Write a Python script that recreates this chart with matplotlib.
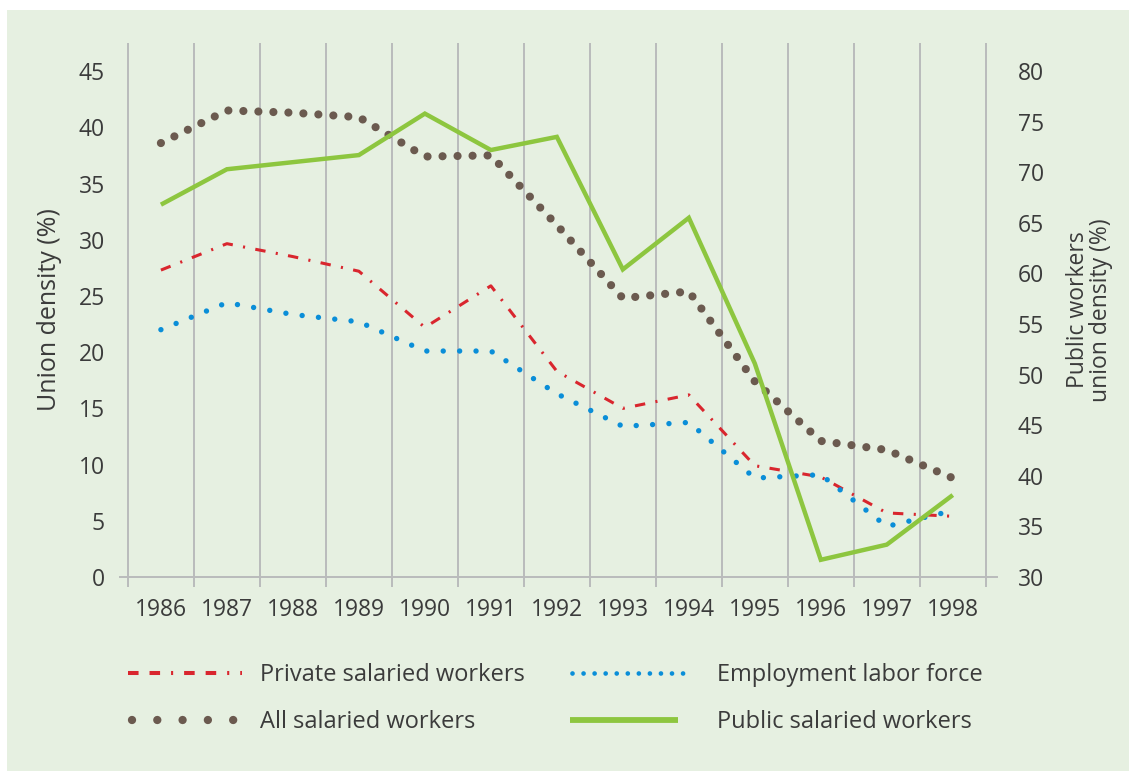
import numpy as np
import matplotlib
matplotlib.use("Agg")
import matplotlib.pyplot as plt
from matplotlib.lines import Line2D
from matplotlib.patches import Rectangle

years = ["1986", "1987", "1988", "1989", "1990", "1991", "1992",
         "1993", "1994", "1995", "1996", "1997", "1998"]
private_salaried = [27.3, 29.65, 28.5, 27.2, 22.2, 25.9, 18.3, 15.0, 16.2, 9.9, 8.9, 5.7, 5.4]
employment_labor = [22.0, 24.4, 23.35, 22.7, 20.1, 20.1, 16.3, 13.4, 13.75, 8.8, 9.1, 4.5, 5.9]
all_salaried = [38.6, 41.5, 41.3, 40.9, 37.4, 37.5, 31.3, 24.8, 25.4, 17.4, 12.1, 11.3, 8.8]
public_salaried = [66.8, 70.3, 71.0, 71.7, 75.8, 72.2, 73.5, 60.4, 65.5, 51.1, 31.7, 33.2, 38.1]

left_ticks = [0, 5, 10, 15, 20, 25, 30, 35, 40, 45]
right_ticks = [30, 35, 40, 45, 50, 55, 60, 65, 70, 75, 80]

labels = ["Private salaried workers", "Employment labor force",
          "All salaried workers", "Public salaried workers"]

BG = "#e6f0e1"
TXT = "#3b3b3b"
GRID = "#b9bbbb"
RED = "#d9262e"
BLUE = "#0a8ed8"
BROWN = "#6b5a4f"
GREEN = "#8dc63f"

plt.rcParams['font.family'] = ['Open Sans', 'DejaVu Sans']
plt.rcParams['lines.scale_dashes'] = False

W, H = 1129, 771
fig = plt.figure(figsize=(W / 100, H / 100), dpi=100)
fig.patch.set_facecolor("white")
fig.patches.append(Rectangle((7 / W, 0), 1 - 7 / W, 1 - 10 / H, transform=fig.transFigure,
                             facecolor=BG, edgecolor="none", zorder=-10))

x0, x1 = 120, 997
y0, y1 = 43, 577
ax = fig.add_axes([x0 / W, 1 - y1 / H, (x1 - x0) / W, (y1 - y0) / H])
ax.set_facecolor("none")
ax2 = ax.twinx()
ax2.set_facecolor("none")

x = np.arange(len(years))
ax.set_xlim(-0.62, 12.67)
ax.set_ylim(0, 47.5)
ax2.set_ylim(30, 30 + 47.5 * 50 / 45)

# vertical grid lines at category boundaries
ax.set_xticks(np.arange(-0.5, len(years)), minor=True)
ax.set_xticks(x)
ax.set_xticklabels(years)
ax.tick_params(axis='x', which='major', length=0, pad=15, labelsize=16.5, labelcolor=TXT)
ax.tick_params(axis='x', which='minor', length=7.5, width=1.4, color=GRID, direction='out')
ax.grid(which='minor', axis='x', color=GRID, linewidth=1.4)
ax.set_axisbelow(True)

ax.set_yticks(left_ticks)
ax.tick_params(axis='y', length=0, pad=11, labelsize=16.5, labelcolor=TXT)
ax2.set_yticks(right_ticks)
ax2.tick_params(axis='y', length=0, pad=15, labelsize=16.5, labelcolor=TXT)

for a in (ax, ax2):
    for s in ("top", "left", "right"):
        a.spines[s].set_visible(False)
ax.spines["bottom"].set_color(GRID)
ax.spines["bottom"].set_linewidth(1.4)
ax2.spines["bottom"].set_visible(False)

ax.set_ylabel("Union density (%)", fontsize=18, color=TXT, labelpad=12)
ax2.set_ylabel("Public workers\nunion density (%)", fontsize=16.5, color=TXT,
               rotation=90, labelpad=16, linespacing=0.95)

red_dash = (0, (7.5, 7.5, 1.5, 7.5))
ax.plot(x, private_salaried, color=RED, lw=2.2, linestyle=red_dash,
        dash_capstyle='butt', zorder=3)
ax.plot(x, employment_labor, color=BLUE, lw=3.9, linestyle=(0, (0.01, 11.8)),
        dash_capstyle='round', zorder=3)
ax.plot(x, all_salaried, color=BROWN, lw=5.9, linestyle=(0, (0.01, 10.8)),
        dash_capstyle='round', zorder=3)
ax2.plot(x, public_salaried, color=GREEN, lw=3.2, solid_capstyle='butt',
         solid_joinstyle='miter', zorder=3)

# legend: one entry per legend box, placed like the reference
LEG_FS = 17
fs_px = LEG_FS * 100 / 72
entries = [
    (Line2D([], [], color=RED, lw=2.9,
            linestyle=(0, (7.6, 7.9, 7.6, 7.9, 1.5, 7.9)), dash_capstyle='butt'),
     labels[0], 128, 242, 260, 675),
    (Line2D([], [], color=BLUE, lw=3.4, linestyle=(0, (0.01, 7.95)), dash_capstyle='round'),
     labels[1], 572, 684, 717, 675),
    (Line2D([], [], color=BROWN, lw=6.0, linestyle=(0, (0.01, 18.2)), dash_capstyle='round'),
     labels[2], 132, 234, 260, 722),
    (Line2D([], [], color=GREEN, lw=4.2, solid_capstyle='butt'),
     labels[3], 570, 678, 717, 722),
]
for h, lab, hx0, hx1, tx, yc in entries:
    fig.legend([h], [lab], loc='center left', bbox_to_anchor=(hx0 / W, 1 - yc / H),
               frameon=False, fontsize=LEG_FS, labelcolor=TXT,
               borderpad=0, borderaxespad=0,
               handlelength=(hx1 - hx0) / fs_px, handletextpad=(tx - hx1) / fs_px)

fig.savefig("out.png", dpi=100, facecolor=fig.get_facecolor())
